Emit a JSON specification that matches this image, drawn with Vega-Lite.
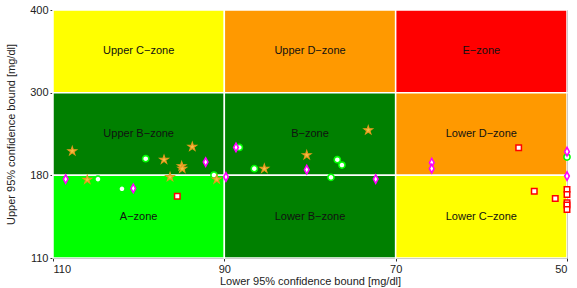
{
  "$schema": "https://vega.github.io/schema/vega-lite/v6.json",
  "width": 514,
  "height": 248,
  "autosize": {"type": "none"},
  "padding": {"left": 53, "top": 10, "right": 10, "bottom": 30},
  "background": "white",
  "config": {
    "view": {"stroke": "#333", "strokeWidth": 1},
    "font": "Liberation Sans",
    "axis": {"labelFont": "Liberation Sans", "titleFont": "Liberation Sans", "labelFontSize": 11, "titleFontSize": 11, "titleFontWeight": "normal", "labelColor": "#222", "titleColor": "#222", "domainColor": "#333", "tickColor": "#333", "grid": false}
  },
  "datasets": {
    "zones": [
      {"x1": 110, "x2": 90, "y1": 300, "y2": 400, "label": "Upper C−zone", "color": "#ffff00", "xc": 100, "yc": 350},
      {"x1": 90, "x2": 70, "y1": 300, "y2": 400, "label": "Upper D−zone", "color": "#ff9900", "xc": 80, "yc": 350},
      {"x1": 70, "x2": 50, "y1": 300, "y2": 400, "label": "E−zone", "color": "#ff0000", "xc": 60, "yc": 350},
      {"x1": 110, "x2": 90, "y1": 180, "y2": 300, "label": "Upper B−zone", "color": "#008000", "xc": 100, "yc": 240},
      {"x1": 90, "x2": 70, "y1": 180, "y2": 300, "label": "B−zone", "color": "#008000", "xc": 80, "yc": 240},
      {"x1": 70, "x2": 50, "y1": 180, "y2": 300, "label": "Lower D−zone", "color": "#ff9900", "xc": 60, "yc": 240},
      {"x1": 110, "x2": 90, "y1": 110, "y2": 180, "label": "A−zone", "color": "#00ff00", "xc": 100, "yc": 145},
      {"x1": 90, "x2": 70, "y1": 110, "y2": 180, "label": "Lower B−zone", "color": "#008000", "xc": 80, "yc": 145},
      {"x1": 70, "x2": 50, "y1": 110, "y2": 180, "label": "Lower C−zone", "color": "#ffff00", "xc": 60, "yc": 145}
    ],
    "points": [
      {"t": "circle", "lo": 99.18, "up": 204.1},
      {"t": "circle", "lo": 104.75, "up": 176.8},
      {"t": "circle", "lo": 101.95, "up": 168.6},
      {"t": "circle", "lo": 91.21, "up": 180.4},
      {"t": "circle", "lo": 88.25, "up": 220.5},
      {"t": "circle", "lo": 86.5, "up": 189.7},
      {"t": "circle", "lo": 76.81, "up": 202.7},
      {"t": "circle", "lo": 76.27, "up": 194.9},
      {"t": "circle", "lo": 77.55, "up": 178.3},
      {"t": "circle", "lo": 50, "up": 206.5},
      {"t": "star", "lo": 107.75, "up": 215.1},
      {"t": "star", "lo": 93.74, "up": 221.5},
      {"t": "star", "lo": 97.04, "up": 202.7},
      {"t": "star", "lo": 94.98, "up": 193.4},
      {"t": "star", "lo": 94.91, "up": 189.7},
      {"t": "star", "lo": 106.0, "up": 176.3},
      {"t": "star", "lo": 96.34, "up": 178.6},
      {"t": "star", "lo": 90.89, "up": 176.6},
      {"t": "star", "lo": 80.38, "up": 209.4},
      {"t": "star", "lo": 85.33, "up": 189.7},
      {"t": "star", "lo": 73.2, "up": 245.5},
      {"t": "diamond", "lo": 108.52, "up": 176.8},
      {"t": "diamond", "lo": 92.18, "up": 199.2},
      {"t": "diamond", "lo": 100.63, "up": 168.9},
      {"t": "diamond", "lo": 89.81, "up": 178.6},
      {"t": "diamond", "lo": 88.64, "up": 220.5},
      {"t": "diamond", "lo": 80.38, "up": 188.2},
      {"t": "diamond", "lo": 72.33, "up": 176.8},
      {"t": "diamond", "lo": 65.79, "up": 198.4},
      {"t": "diamond", "lo": 65.79, "up": 189.7},
      {"t": "diamond", "lo": 50, "up": 214.3},
      {"t": "diamond", "lo": 50, "up": 179.4},
      {"t": "square", "lo": 95.49, "up": 162.3},
      {"t": "square", "lo": 55.64, "up": 220.0},
      {"t": "square", "lo": 53.82, "up": 166.6},
      {"t": "square", "lo": 51.37, "up": 160.4},
      {"t": "square", "lo": 50, "up": 168.1},
      {"t": "square", "lo": 50, "up": 163.8},
      {"t": "square", "lo": 50, "up": 156.7},
      {"t": "square", "lo": 50, "up": 154.8},
      {"t": "square", "lo": 50, "up": 151.0}
    ]
  },
  "layer": [
    {
      "data": {"name": "zones"},
      "mark": {"type": "rect", "stroke": "white", "strokeWidth": 1.5},
      "encoding": {
        "x": {"field": "x1", "type": "quantitative", "scale": {"domain": [110, 50], "nice": false, "zero": false},
          "axis": {"values": [110, 90, 70, 50], "title": "Lower 95% confidence bound [mg/dl]", "tickSize": 3, "labelPadding": 2, "titlePadding": 1, "domain": true}},
        "x2": {"field": "x2"},
        "y": {"field": "y1", "type": "quantitative", "scale": {"domain": [110, 180, 300, 400], "range": [248, 165.33, 82.67, 0], "nice": false, "zero": false},
          "axis": {"values": [110, 180, 300, 400], "title": "Upper 95% confidence bound [mg/dl]", "tickSize": 3, "labelPadding": 2, "titlePadding": 13, "domain": true}},
        "y2": {"field": "y2"},
        "fill": {"field": "color", "type": "nominal", "scale": null}
      }
    },
    {
      "data": {"name": "zones"},
      "mark": {"type": "text", "fontSize": 11, "color": "#111", "font": "Liberation Sans"},
      "encoding": {
        "x": {"field": "xc", "type": "quantitative"},
        "y": {"field": "yc", "type": "quantitative"},
        "text": {"field": "label"}
      }
    },
    {
      "data": {"name": "points"},
      "transform": [{"filter": "datum.t === 'circle'"}],
      "mark": {"type": "point", "shape": "circle", "filled": true, "fill": "#ffffff", "stroke": "#00ff00", "strokeWidth": 1.6, "size": 38, "opacity": 1},
      "encoding": {
        "x": {"field": "lo", "type": "quantitative"},
        "y": {"field": "up", "type": "quantitative"}
      }
    },
    {
      "data": {"name": "points"},
      "transform": [{"filter": "datum.t === 'star'"}],
      "mark": {"type": "point", "shape": "M0,-1L0.2245,-0.309L0.951,-0.309L0.363,0.118L0.588,0.809L0,0.382L-0.588,0.809L-0.363,0.118L-0.951,-0.309L-0.2245,-0.309Z", "filled": true, "fill": "#f7bd45", "stroke": "#e49a1e", "strokeWidth": 1.1, "size": 82, "opacity": 1},
      "encoding": {
        "x": {"field": "lo", "type": "quantitative"},
        "y": {"field": "up", "type": "quantitative"}
      }
    },
    {
      "data": {"name": "points"},
      "transform": [{"filter": "datum.t === 'diamond'"}],
      "mark": {"type": "point", "shape": "M0,-1L0.55,0L0,1L-0.55,0Z", "filled": true, "fill": "#ffffff", "stroke": "#ff00ff", "strokeWidth": 1.6, "size": 72, "opacity": 1},
      "encoding": {
        "x": {"field": "lo", "type": "quantitative"},
        "y": {"field": "up", "type": "quantitative"}
      }
    },
    {
      "data": {"name": "points"},
      "transform": [{"filter": "datum.t === 'square'"}],
      "mark": {"type": "point", "shape": "square", "filled": true, "fill": "#ffffff", "stroke": "#ff0000", "strokeWidth": 1.5, "size": 30, "opacity": 1},
      "encoding": {
        "x": {"field": "lo", "type": "quantitative"},
        "y": {"field": "up", "type": "quantitative"}
      }
    }
  ]
}
